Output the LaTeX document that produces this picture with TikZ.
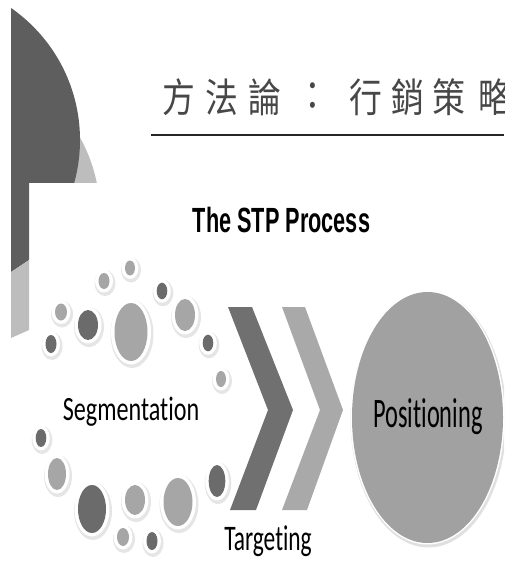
\documentclass[tikz,border=0pt]{standalone}
\usepackage{fontspec}
\setmainfont{Carlito}[Ligatures={NoCommon}]
\newfontfamily\headfont{Liberation Sans}
\newfontfamily\cjk{Noto Sans CJK TC}
\definecolor{decodark}{HTML}{5E5E5E}
\definecolor{decolight}{HTML}{BDBDBD}
\definecolor{spotdark}{HTML}{6B6B6B}
\definecolor{spotlight}{HTML}{A6A6A6}
\definecolor{chevdark}{HTML}{707070}
\definecolor{chevlight}{HTML}{A9A9A9}
\definecolor{posfill}{HTML}{A1A1A1}

\begin{document}
\begin{tikzpicture}[line join=round,x=1pt,y=-1pt,
    word/.style={inner sep=0pt,anchor=base,transform shape},
    glyph/.style={inner sep=0pt,text=black!72,font=\cjk\fontsize{40}{40}\selectfont,xscale=0.82,transform shape}]
    \useasboundingbox (0,0) rectangle (504,561);
    \clip (0,0) rectangle (504,561);
    \begin{scope}
        \clip (11,0) rectangle (120,183);
        \fill [decolight] (-60,215) circle (160);
        \fill [decodark] (-80.8,140) circle (160.8);
    \end{scope}
    \fill [decodark] (11,182) -- (29,182) -- (29,260) -- (11,272) -- cycle;
    \fill [decolight] (11,272) -- (29,260) -- (29,330) -- (11,338) -- cycle;
    \foreach \cx/\ch [count=\i] in {179/方,222/法,265/論,313/：,366/行,408/銷,449/策,495/略}
        \node [glyph] (t\i) at (\cx,97) {\ch};
    \draw [line width=2pt,black!85] (151,135) -- (504,135);
    \node [word,font=\headfont\bfseries\fontsize{35}{35}\selectfont,xscale=0.62] (stp) at (281.5,232) {The STP Process};
    \foreach \px/\py/\rx/\ry/\col in {130/268/5/7.5/spotlight,104/281/5.5/8/spotlight,162/291/5.3/8.3/spotdark,
        61/312/6/8.5/spotlight,88/325/10/15/spotdark,131/332/16.5/29/spotlight,185/315/10/16/spotlight,
        51/344/5.5/9/spotdark,208/343/5.3/8.3/spotdark,221/379/5/8/spotlight,41/438/5.3/9/spotdark,
        57/474/9/16/spotlight,92/509/14/24/spotdark,135/500/10/15/spotlight,178/502/14.5/24/spotlight,
        217/481/8.3/16/spotdark,123/537/6/9/spotlight,152/541/5.5/9/spotdark}
    {
        \fill [black!10] (\px+1,\py+2) ellipse ({\rx+5} and {\ry+5});
        \fill [white] (\px,\py) ellipse ({\rx+3.5} and {\ry+3.5});
        \fill [\col] (\px,\py) ellipse ({\rx} and {\ry});
    }
    \fill [chevdark] (228,307) -- (252,307) -- (293,410) -- (256,510) -- (230,510) -- (268,410) -- cycle;
    \fill [chevlight] (282,307) -- (305,307) -- (343,410) -- (307,510) -- (282,510) -- (320,410) -- cycle;
    \fill [black!12] (428.5,419.5) ellipse (78 and 128);
    \fill [white] (427.5,417.5) ellipse (77 and 127);
    \fill [posfill] (427.5,417.5) ellipse (75.5 and 125.5);
    \node [word,font=\fontsize{34}{34}\selectfont,xscale=0.71] (seg) at (131,420) {Segmentation};
    \node [word,font=\fontsize{36}{36}\selectfont,xscale=0.65] (tgt) at (268,550) {Targeting};
    \node [word,font=\fontsize{42}{42}\selectfont,xscale=0.58] (pos) at (428,427) {Positioning};
\end{tikzpicture}
\end{document}
